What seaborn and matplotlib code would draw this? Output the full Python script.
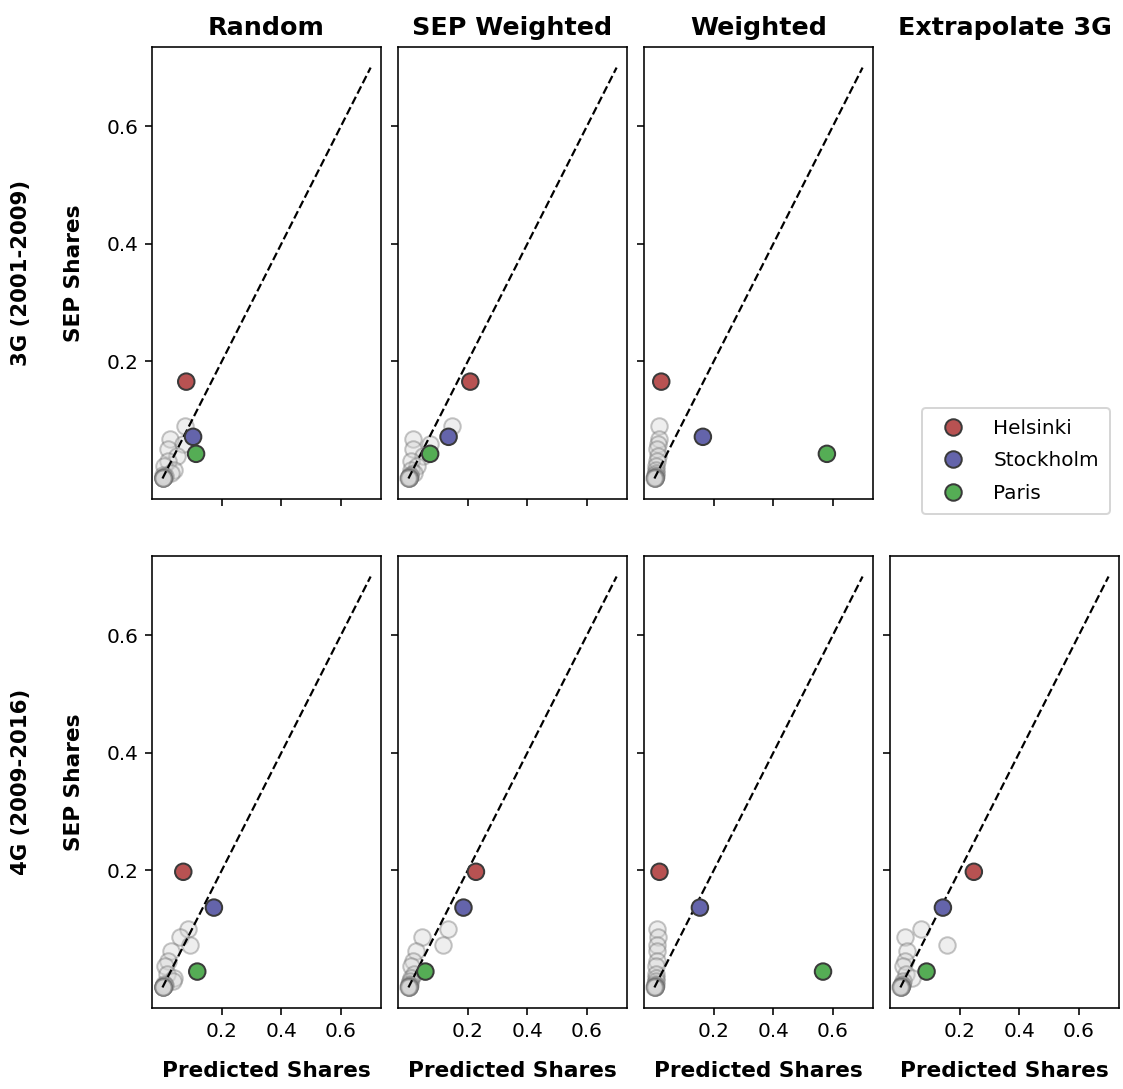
import matplotlib
matplotlib.use("Agg")
import matplotlib.pyplot as plt
import seaborn as sns
import pandas as pd

# Panel layout
methods = ["Random", "SEP Weighted", "Weighted", "Extrapolate 3G"]
periods = ["3G (2001-2009)", "4G (2009-2016)"]

# Highlighted cities
cities = ["Helsinki", "Stockholm", "Paris"]
city_colors = ["#b85252", "#6464ab", "#55ad55"]

# Actual SEP shares of highlighted cities
actual_3g = [0.165, 0.071, 0.042]
actual_4g = [0.197, 0.136, 0.027]

# Predicted shares of highlighted cities, per method
pred_3g_random = [0.080, 0.103, 0.113]
pred_3g_sepw = [0.208, 0.135, 0.073]
pred_3g_weighted = [0.023, 0.163, 0.580]

pred_4g_random = [0.070, 0.173, 0.117]
pred_4g_sepw = [0.227, 0.185, 0.057]
pred_4g_weighted = [0.017, 0.153, 0.567]
pred_4g_extrap = [0.247, 0.143, 0.088]

# Remaining cities: actual shares
others_actual_3g = [0.089, 0.067, 0.058, 0.050, 0.038, 0.030, 0.022, 0.015, 0.010,
                    0.006, 0.004, 0.003, 0.002, 0.0015, 0.001, 0.0005, 0.0002, 0.0001]
others_actual_4g = [0.100, 0.086, 0.072, 0.062, 0.045, 0.036, 0.023, 0.016, 0.011,
                    0.006, 0.004, 0.003, 0.002, 0.0015, 0.001, 0.0005, 0.0002, 0.0001]

# Remaining cities: predicted shares
others_3g_random = [0.077, 0.027, 0.070, 0.020, 0.050, 0.017, 0.005, 0.040, 0.030,
                    0.003, 0.008, 0.002, 0.004, 0.001, 0.002, 0.001, 0.0005, 0.0002]
others_3g_sepw = [0.147, 0.017, 0.073, 0.015, 0.050, 0.010, 0.030, 0.008, 0.020,
                  0.004, 0.006, 0.002, 0.003, 0.001, 0.002, 0.001, 0.0005, 0.0002]
others_3g_weighted = [0.017, 0.015, 0.012, 0.010, 0.012, 0.008, 0.007, 0.006, 0.005,
                      0.003, 0.004, 0.002, 0.003, 0.001, 0.002, 0.001, 0.0005, 0.0002]

others_4g_random = [0.087, 0.060, 0.093, 0.030, 0.020, 0.010, 0.015, 0.040, 0.037,
                    0.005, 0.008, 0.002, 0.004, 0.001, 0.002, 0.001, 0.0005, 0.0002]
others_4g_sepw = [0.133, 0.047, 0.117, 0.027, 0.015, 0.010, 0.020, 0.008, 0.005,
                  0.003, 0.006, 0.002, 0.003, 0.001, 0.002, 0.001, 0.0005, 0.0002]
others_4g_weighted = [0.010, 0.012, 0.010, 0.008, 0.010, 0.007, 0.006, 0.005, 0.004,
                      0.003, 0.004, 0.002, 0.003, 0.001, 0.002, 0.001, 0.0005, 0.0002]
others_4g_extrap = [0.070, 0.017, 0.157, 0.023, 0.015, 0.010, 0.020, 0.040, 0.008,
                    0.004, 0.006, 0.002, 0.003, 0.001, 0.002, 0.001, 0.0005, 0.0002]

# 45-degree reference line
diag = [0.0, 0.7]
ticks = [0.2, 0.4, 0.6]

panels = {
    (0, 0): (pred_3g_random, actual_3g, others_3g_random, others_actual_3g),
    (0, 1): (pred_3g_sepw, actual_3g, others_3g_sepw, others_actual_3g),
    (0, 2): (pred_3g_weighted, actual_3g, others_3g_weighted, others_actual_3g),
    (1, 0): (pred_4g_random, actual_4g, others_4g_random, others_actual_4g),
    (1, 1): (pred_4g_sepw, actual_4g, others_4g_sepw, others_actual_4g),
    (1, 2): (pred_4g_weighted, actual_4g, others_4g_weighted, others_actual_4g),
    (1, 3): (pred_4g_extrap, actual_4g, others_4g_extrap, others_actual_4g),
}

plt.rcParams["font.family"] = ["DejaVu Sans"]
fig, axes = plt.subplots(2, 4, figsize=(1123 / 144, 1089 / 144), dpi=144,
                         sharex=True, sharey=True)
fig.subplots_adjust(left=0.1354, right=0.9964, top=0.9568, bottom=0.0744,
                    wspace=0.0742, hspace=0.126)

palette = dict(zip(cities, city_colors))

for r in range(2):
    for c in range(4):
        ax = axes[r, c]
        if r == 0:
            ax.set_title(methods[c], fontsize=12.7, fontweight="bold")
        if (r, c) not in panels:
            ax.axis("off")
            continue
        px, py, ox, oy = panels[(r, c)]
        others = pd.DataFrame({"pred": ox, "actual": oy})
        sns.scatterplot(data=others, x="pred", y="actual", ax=ax,
                        color="#d6d6d6", edgecolor="#6e6e6e", alpha=0.4,
                        s=68, linewidth=1, legend=False)
        ax.plot(diag, diag, linestyle="--", color="black", linewidth=1.1)
        main = pd.DataFrame({"pred": px, "actual": py, "city": cities})
        sns.scatterplot(data=main, x="pred", y="actual", hue="city",
                        palette=palette, hue_order=cities, ax=ax,
                        edgecolor="#3a3a3a", s=68, linewidth=1,
                        legend=(r, c) == (0, 0), zorder=3)
        ax.set_xticks(ticks)
        ax.set_yticks(ticks)
        ax.tick_params(labelsize=10)
        ax.set_xlabel("Predicted Shares" if r == 1 else "", fontsize=10.8,
                      fontweight="bold", labelpad=10)
        ax.set_ylabel("SEP Shares" if c == 0 else "", fontsize=10.8,
                      fontweight="bold", labelpad=11)

handles, labels = axes[0, 0].get_legend_handles_labels()
axes[0, 0].get_legend().remove()
fig.legend(handles, labels, loc="upper right",
           bbox_to_anchor=(0.9973, 0.6345), fontsize=10, frameon=True,
           borderpad=0.55, handletextpad=1.0, labelspacing=0.67)

for r, period in enumerate(periods):
    pos = axes[r, 0].get_position()
    fig.text(0.0185, (pos.y0 + pos.y1) / 2, period, rotation=90,
             ha="center", va="center", fontsize=10.6, fontweight="bold")

fig.savefig("out.png", dpi=144)
